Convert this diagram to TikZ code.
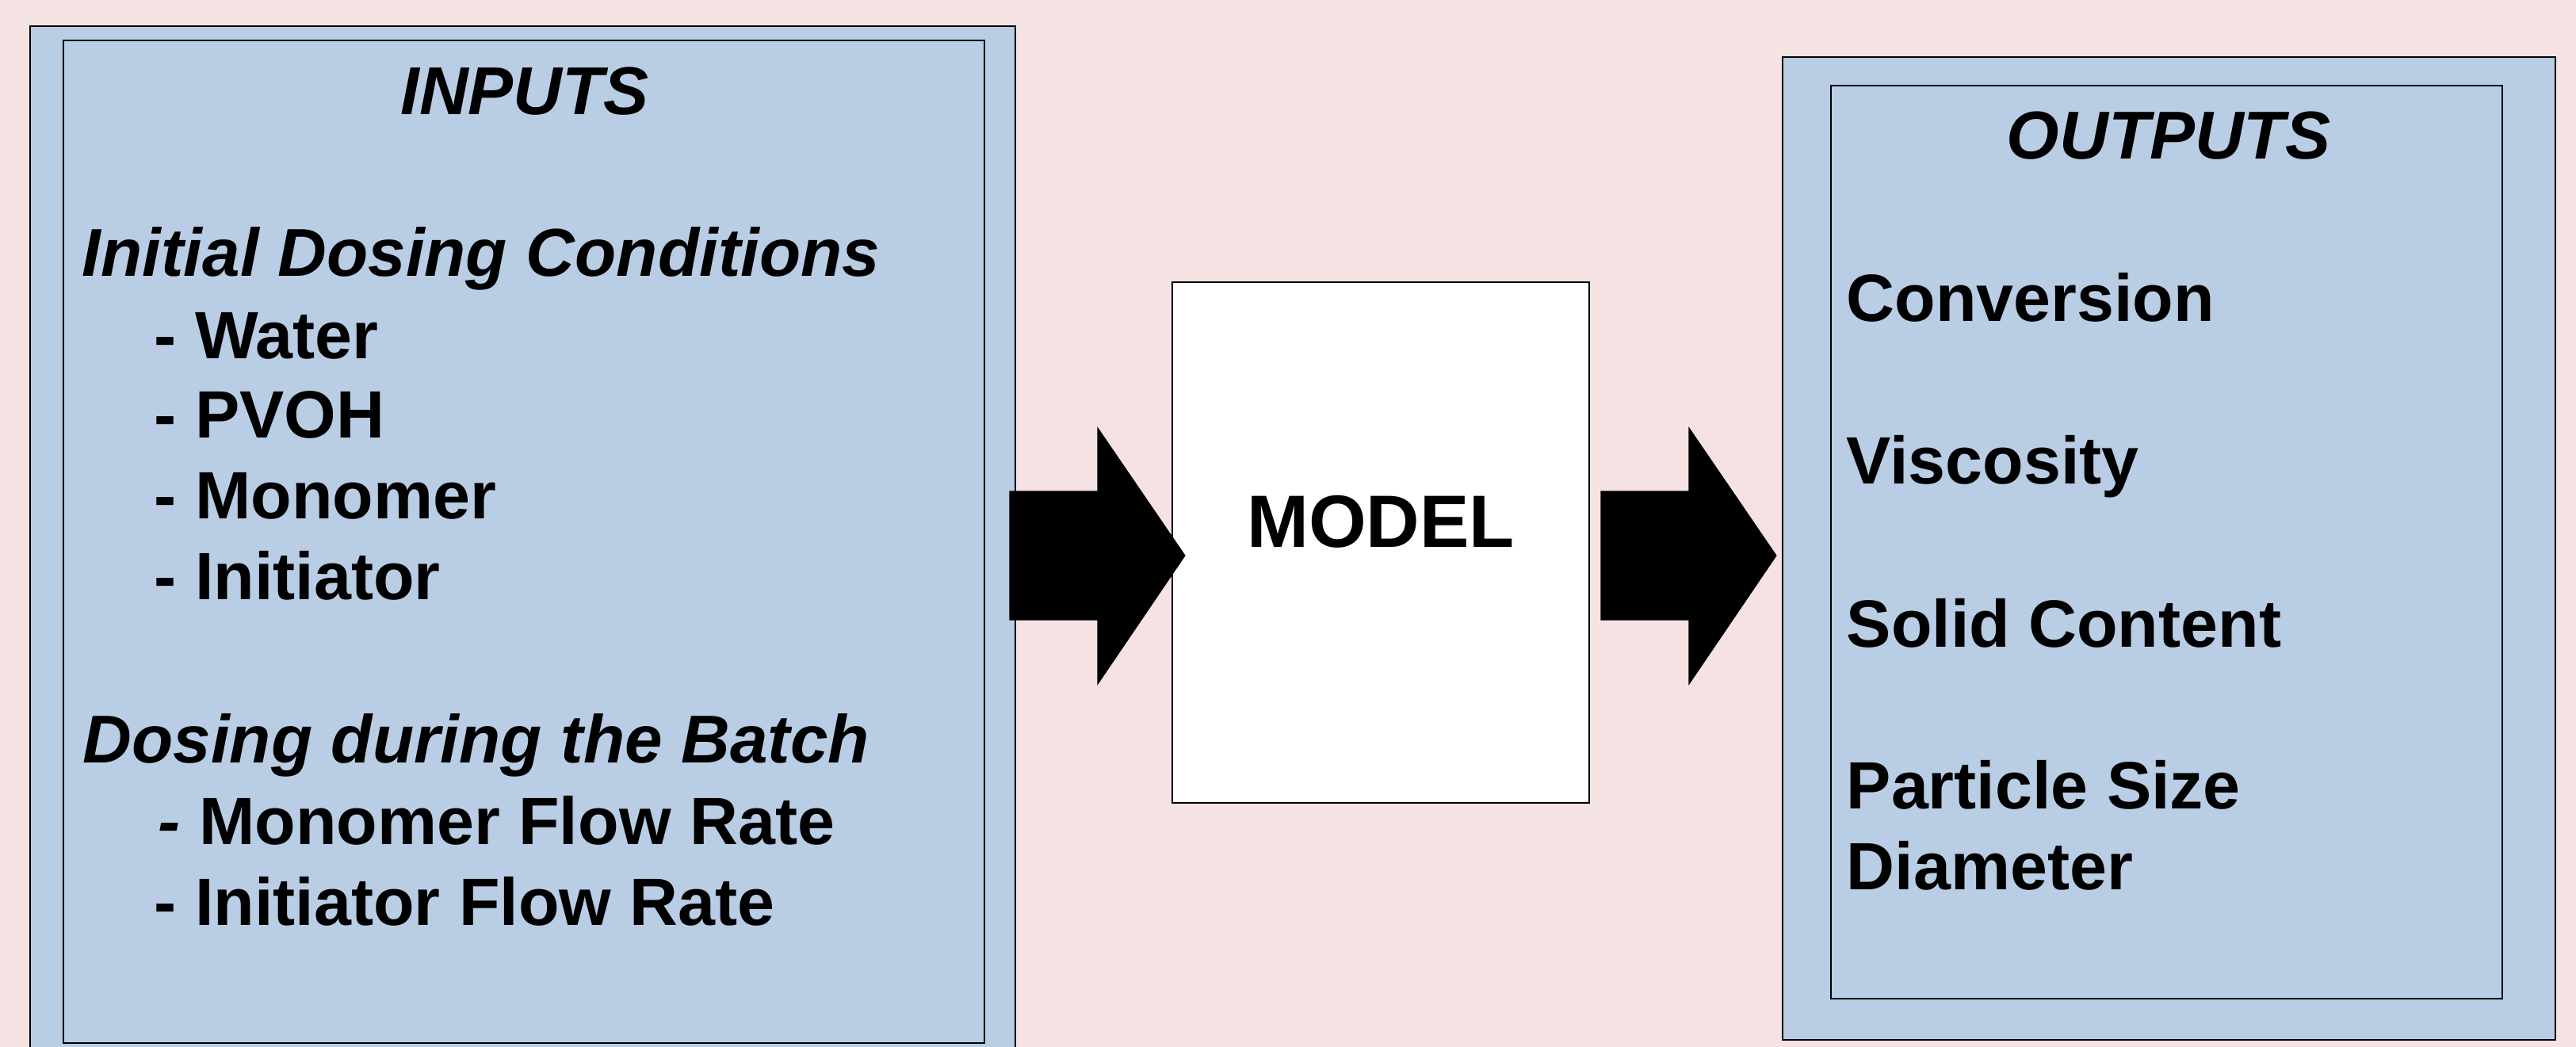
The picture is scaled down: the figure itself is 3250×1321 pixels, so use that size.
\documentclass[tikz,border=0pt]{standalone}
\usepackage{fontspec}
\setmainfont{Liberation Sans}
\usetikzlibrary{positioning}
\definecolor{bgpink}{RGB}{245,227,227}
\definecolor{boxblue}{RGB}{185,205,228}
\tikzset{
  panel/.style={draw=black,fill=boxblue,line width=0.6pt,inner sep=0pt,anchor=north west},
  innerpanel/.style={draw=black,line width=0.6pt,inner sep=0pt,anchor=north west},
  modelbox/.style={draw=black,fill=white,line width=0.5pt,inner sep=0pt,anchor=north west},
  blockarr/.style={fill=black,draw=black,line width=0.3pt},
  hdr/.style={font=\fontsize{24.3}{28}\selectfont\bfseries\itshape,anchor=base,inner sep=0pt},
  itm/.style={font=\fontsize{24}{28}\selectfont\bfseries,anchor=base west,inner sep=0pt},
  itmit/.style={itm,font=\fontsize{24.3}{28}\selectfont\bfseries\itshape},
}
\begin{document}
\begin{tikzpicture}[x=0.01cm,y=-0.01cm]
  \fill[bgpink] (0,0) rectangle (3250,1321);
  \useasboundingbox (0,0) rectangle (3250,1321);
  % boxes
  \node[panel,minimum width=12.42cm,minimum height=13.3cm] (inbox) at (37,32) {};
  \node[innerpanel,minimum width=11.61cm,minimum height=12.64cm] (inframe) at (79,50) {};
  \node[panel,minimum width=9.74cm,minimum height=12.39cm] (outbox) at (2248,71) {};
  \node[innerpanel,minimum width=8.46cm,minimum height=11.51cm] (outframe) at (2309,107) {};
  \node[modelbox,minimum width=5.26cm,minimum height=6.57cm] (model) at (1478,355) {};
  % inputs
  \node[hdr] (inhead) at (662,144) {INPUTS};
  \node[itmit] (initial) at (103,348) {Initial Dosing Conditions};
  \foreach \y/\n/\t in {452/water/Water,552/pvoh/PVOH,654/mono/Monomer,756/init/Initiator}
    \node[itm] (\n) at (194,\y) {- \t};
  \node[itmit] (dosing) at (104,962) {Dosing during the Batch};
  \node[itm] (monoflow) at (199,1065) {{\itshape -} Monomer Flow Rate};
  \node[itm] (initflow) at (194,1167) {- Initiator Flow Rate};
  % model
  \node[font=\fontsize{26.6}{30}\selectfont\bfseries,anchor=base,inner sep=0pt] (modeltxt) at (1742,690) {MODEL};
  % outputs
  \node[hdr] (outhead) at (2736,200) {OUTPUTS};
  \foreach \y/\n/\t in {405/conv/Conversion,610/visc/Viscosity,816/solid/Solid Content,1020/psize/Particle Size,1122/diam/Diameter}
    \node[itm] (\n) at (2329,\y) {\t};
  % block arrows
  \coordinate (arrA) at (1274,701);
  \coordinate (arrB) at (2020,701);
  \foreach \c in {arrA,arrB}
    \fill[blockarr,shift={(\c)}] (0,-81)--(111,-81)--(111,-161)--(221,0)--(111,162)--(111,81)--(0,81)--cycle;
\end{tikzpicture}
\end{document}
